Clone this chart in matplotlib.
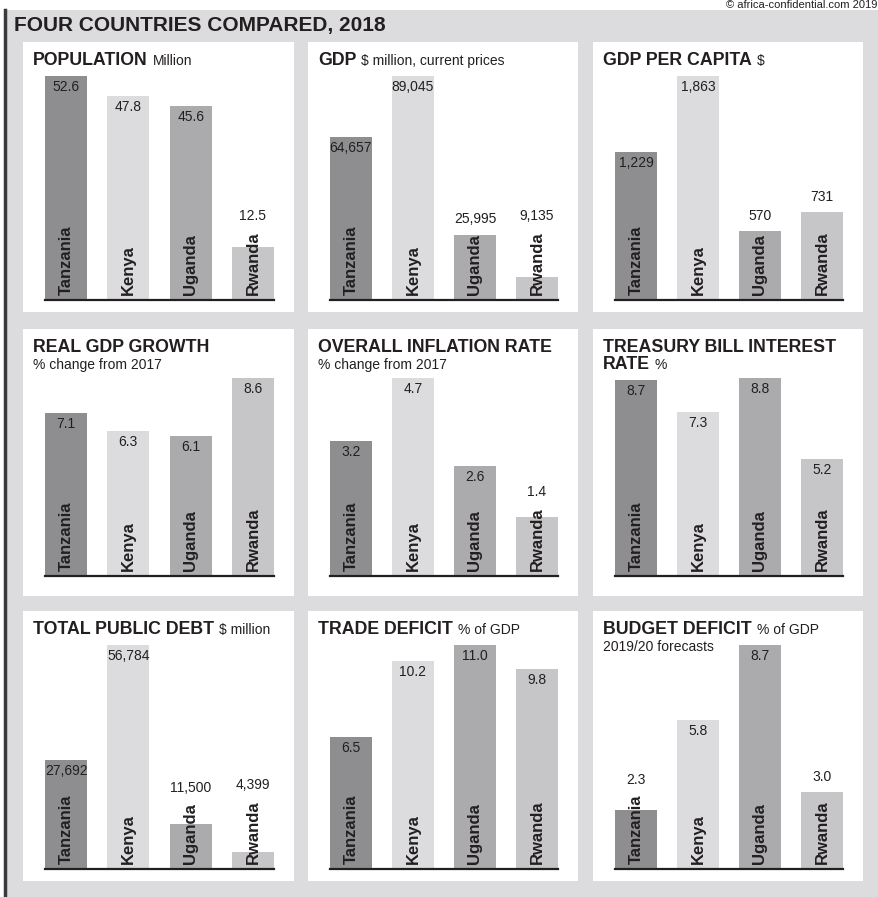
import matplotlib.pyplot as plt
from matplotlib.patches import Rectangle
from matplotlib.lines import Line2D

plt.rcParams['font.family'] = ['Liberation Sans', 'DejaVu Sans']

countries = ["Tanzania", "Kenya", "Uganda", "Rwanda"]
bar_colors = ["#8e8e91", "#dcdcde", "#ababad", "#c6c6c8"]

population = [52.6, 47.8, 45.6, 12.5]
gdp = [64657, 89045, 25995, 9135]
gdp_per_capita = [1229, 1863, 570, 731]
gdp_growth = [7.1, 6.3, 6.1, 8.6]
inflation = [3.2, 4.7, 2.6, 1.4]
tbill_rate = [8.7, 7.3, 8.8, 5.2]
public_debt = [27692, 56784, 11500, 4399]
trade_deficit = [6.5, 10.2, 11.0, 9.8]
budget_deficit = [2.3, 5.8, 8.7, 3.0]

# each title line is (bold part, regular part)
panels = [
    ([("POPULATION", "Million")], population, "{:.1f}"),
    ([("GDP", "$ million, current prices")], gdp, "{:,.0f}"),
    ([("GDP PER CAPITA", "$")], gdp_per_capita, "{:,.0f}"),
    ([("REAL GDP GROWTH", ""), ("", "% change from 2017")], gdp_growth, "{:.1f}"),
    ([("OVERALL INFLATION RATE", ""), ("", "% change from 2017")], inflation, "{:.1f}"),
    ([("TREASURY BILL INTEREST", ""), ("RATE", "%")], tbill_rate, "{:.1f}"),
    ([("TOTAL PUBLIC DEBT", "$ million")], public_debt, "{:,.0f}"),
    ([("TRADE DEFICIT", "% of GDP")], trade_deficit, "{:.1f}"),
    ([("BUDGET DEFICIT", "% of GDP"), ("", "2019/20 forecasts")], budget_deficit, "{:.1f}"),
]

W, H = 879, 897
fig = plt.figure(figsize=(W / 100, H / 100), dpi=100)
fig.patch.set_facecolor("white")
renderer = fig.canvas.get_renderer()
ink = "#231f20"


def fx(x):
    return x / W


def fy(y):
    return 1 - y / H


# grey backdrop with dark left rule
fig.add_artist(Rectangle((fx(5), 0), 1, fy(10), transform=fig.transFigure,
                         facecolor="#dcdcde", edgecolor="none", zorder=0))
fig.add_artist(Line2D([fx(5.5), fx(5.5)], [0, fy(10)], transform=fig.transFigure,
                      color="#3a3a3a", lw=2.5, zorder=0.2))

fig.text(fx(14), fy(31), "FOUR COUNTRIES COMPARED, 2018", fontsize=15,
         fontweight="bold", color=ink, va="baseline")
fig.text(fx(877), fy(8.5), "\u00a9 africa-confidential.com 2019", fontsize=8,
         color=ink, va="baseline", ha="right")

cols = [(23, 294), (308, 578), (593, 863)]
# panel top, panel bottom, baseline, top of tallest bar
rows = [(42, 312, 300, 76), (329, 596, 576, 378), (611, 881, 869, 645)]
bw = 42 / 62

for k, (lines, values, fmt) in enumerate(panels):
    left, right = cols[k % 3]
    top, bottom, base, peak = rows[k // 3]

    fig.add_artist(Rectangle((fx(left), fy(bottom)), (right - left) / W,
                             (bottom - top) / H, transform=fig.transFigure,
                             facecolor="white", edgecolor="none", zorder=0.5))

    # title lines
    for j, (bold, reg) in enumerate(lines):
        yb = top + 23 + j * 17
        x = left + 10
        if bold:
            t = fig.text(fx(x), fy(yb), bold, fontsize=12.8, fontweight="bold",
                         color=ink, va="baseline")
            x += t.get_window_extent(renderer).width + 5
        if reg:
            fig.text(fx(x), fy(yb), reg, fontsize=10, color=ink, va="baseline")

    ax = fig.add_axes([fx(left + 22), fy(base), (right - 20 - left - 22) / W,
                       (base - peak) / H])
    ax.set_zorder(2)
    ax.set_facecolor("none")
    idx = range(len(countries))
    ax.bar(idx, values, width=bw, color=bar_colors)
    ax.set_xlim(-bw / 2, len(countries) - 1 + bw / 2)
    ax.set_ylim(0, max(values))
    for s in ["top", "left", "right"]:
        ax.spines[s].set_visible(False)
    ax.spines["bottom"].set_linewidth(1.6)
    ax.spines["bottom"].set_color(ink)
    ax.set_xticks([])
    ax.set_yticks([])

    for i, (name, v) in enumerate(zip(countries, values)):
        nt = ax.annotate(name, xy=(i, 0), xytext=(0, 5), textcoords="offset pixels",
                         rotation=90, ha="center", va="bottom", fontsize=12,
                         fontweight="bold", color=ink)
        name_top = nt.get_window_extent(renderer).y1
        bar_top = ax.transData.transform((i, v))[1]
        label = fmt.format(v)
        if bar_top - name_top > 24:
            ax.annotate(label, xy=(i, v), xytext=(0, -4), textcoords="offset pixels",
                        ha="center", va="top", fontsize=10, color=ink)
        else:
            off = max(bar_top, name_top) - bar_top + 8
            ax.annotate(label, xy=(i, v), xytext=(0, off), textcoords="offset pixels",
                        ha="center", va="bottom", fontsize=10, color=ink)

fig.savefig("out.png", dpi=100)
